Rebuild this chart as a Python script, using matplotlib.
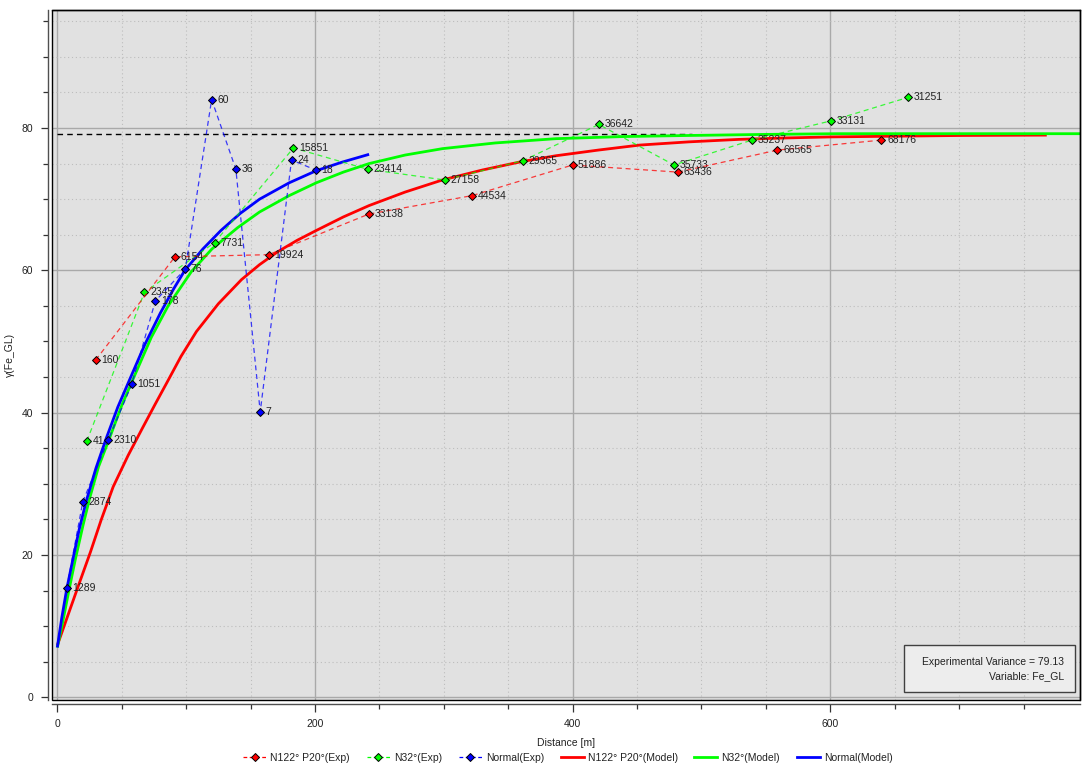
import matplotlib
matplotlib.use("Agg")
import matplotlib.pyplot as plt
from matplotlib.lines import Line2D
from matplotlib.patches import Rectangle
from matplotlib.ticker import MultipleLocator

plt.rcParams['font.family'] = ['Liberation Sans', 'DejaVu Sans']

# ---- experimental variogram points (lag [m], gamma, number of pairs) ----
n122_lag = [29.8, 91.3, 164.0, 241.7, 322.0, 399.9, 481.8, 559.0, 639.7]
n122_gamma = [47.4, 61.9, 62.2, 67.9, 70.5, 74.8, 73.8, 76.9, 78.3]
n122_pairs = ["160", "6154", "19924", "33138", "44534", "51886", "63436", "66565", "68176"]

n32_lag = [22.9, 67.6, 122.1, 183.3, 240.9, 300.6, 361.4, 420.3, 478.7, 539.1, 600.4, 660.3]
n32_gamma = [36.0, 56.9, 63.9, 77.2, 74.2, 72.7, 75.4, 80.5, 74.8, 78.3, 81.0, 84.3]
n32_pairs = ["41", "2345", "7731", "15851", "23414", "27158", "29365", "36642",
             "35733", "35237", "33131", "31251"]

normal_lag = [7.4, 19.8, 39.4, 57.8, 76.1, 99.4, 119.8, 138.6, 157.5, 181.8, 200.6]
normal_gamma = [15.4, 27.5, 36.1, 44.0, 55.7, 60.2, 84.0, 74.2, 40.1, 75.5, 74.1]
normal_pairs = ["1289", "2874", "2310", "1051", "178", "76", "60", "36", "7", "24", "18"]

# ---- fitted model curves ----
n122_model_h = [0, 8, 17, 25.7, 34, 43.4, 55, 66, 76, 85, 96, 108, 125, 143, 157, 171,
                186, 201, 222, 242, 270, 299, 330, 361, 387, 420, 452, 490, 529, 565,
                601, 650, 702, 768]
n122_model_g = [7.3, 11.4, 16.0, 20.4, 24.9, 29.6, 34.0, 37.8, 41.2, 44.2, 47.9, 51.4,
                55.3, 58.7, 60.8, 62.6, 64.2, 65.6, 67.5, 69.1, 71.0, 72.7, 74.1, 75.3,
                76.1, 76.9, 77.6, 78.05, 78.4, 78.6, 78.75, 78.85, 78.95, 79.0]

n32_model_h = [0, 4, 9, 14, 20, 25, 32, 40.7, 50, 59, 73, 86, 104, 120, 140, 157, 180,
               201, 222, 242, 270, 299, 340, 387, 440, 490, 550, 606, 700, 800]
n32_model_g = [7.0, 10.4, 15.0, 19.4, 24.2, 27.9, 32.4, 36.5, 41.0, 44.8, 50.6, 55.0,
               59.8, 63.0, 66.0, 68.2, 70.5, 72.3, 73.8, 75.0, 76.2, 77.1, 77.9, 78.5,
               78.8, 78.95, 79.1, 79.2, 79.2, 79.2]

normal_model_h = [0, 3.5, 7.3, 12, 17, 22.5, 30, 37.6, 47, 57, 68, 80, 90, 99, 113, 127,
                  142, 157, 180, 201, 221, 242]
normal_model_g = [7.0, 11.2, 15.2, 19.3, 23.6, 27.6, 32.2, 36.2, 40.8, 45.0, 49.6, 54.0,
                  57.3, 60.0, 63.0, 65.6, 68.0, 70.0, 72.3, 74.0, 75.2, 76.3]

exp_variance = 79.13
variance_line_end = 493
variable_name = "Fe_GL"

RED, GREEN, BLUE = "#ff0000", "#00ff00", "#0000ff"
FS = 7.5

W, H = 1082, 769
fig = plt.figure(figsize=(W / 100, H / 100), dpi=100)
fig.patch.set_facecolor("white")

# axes frame in pixels
L, R, T, B = 51.7, 1080.0, 10.3, 700.0
ax = fig.add_axes([L / W, (H - B) / H, (R - L) / W, (B - T) / H])
ax.set_facecolor("#e1e1e1")

ax.set_xlim(-4.35, 793.8)
ax.set_ylim(-0.38, 96.54)

ax.xaxis.set_major_locator(MultipleLocator(200))
ax.xaxis.set_minor_locator(MultipleLocator(50))
ax.yaxis.set_major_locator(MultipleLocator(20))
ax.yaxis.set_minor_locator(MultipleLocator(5))

ax.grid(which="major", color="#a9a9a9", linewidth=1.0, linestyle="-", zorder=0)
ax.grid(which="minor", color="#bdbdbd", linewidth=0.8, linestyle=(0, (1, 2.5)), zorder=0)
ax.set_axisbelow(True)

for side in ("left", "bottom"):
    ax.spines[side].set_position(("outward", 3))
    ax.spines[side].set_color("#505050")
    ax.spines[side].set_linewidth(1.0)
for side in ("top", "right"):
    ax.spines[side].set_color("#000000")
    ax.spines[side].set_linewidth(1.0)
# inner frame line
ax.add_patch(Rectangle((0, 0), 1, 1, transform=ax.transAxes, fill=False,
                       edgecolor="#000000", linewidth=1.0, zorder=6, clip_on=False))

ax.tick_params(which="major", direction="out", length=5.4, width=0.9, color="#333333",
               labelsize=FS, labelcolor="#222222", pad=5)
ax.tick_params(which="minor", direction="out", length=3.6, width=0.9, color="#333333")

ax.set_xlabel("Distance [m]", fontsize=FS, color="#222222")
ax.xaxis.set_label_coords(0.5, -0.055)
ax.set_ylabel("γ(Fe_GL)", fontsize=FS, color="#222222")
ax.yaxis.set_label_coords(-0.036, 0.5)

# sill reference line
ax.plot([0, variance_line_end], [exp_variance, exp_variance], color="black",
        linewidth=1.0, linestyle=(0, (4, 3)), zorder=2)

# model curves
ax.plot(n122_model_h, n122_model_g, color=RED, linewidth=2.0, zorder=2.2,
        solid_capstyle="butt")
ax.plot(n32_model_h, n32_model_g, color=GREEN, linewidth=2.0, zorder=2.3,
        solid_capstyle="butt")
ax.plot(normal_model_h, normal_model_g, color=BLUE, linewidth=2.0, zorder=2.4,
        solid_capstyle="butt")


def exp_series(lags, gammas, pairs, color, z):
    ax.plot(lags, gammas, color=color, linewidth=0.9, linestyle=(0, (4, 3)), alpha=0.75,
            zorder=z)
    ax.plot(lags, gammas, linestyle="none", marker="D", markersize=4.3,
            markerfacecolor=color, markeredgecolor="black", markeredgewidth=0.7,
            zorder=z + 0.1)
    for x, y, s in zip(lags, gammas, pairs):
        ax.annotate(s, (x, y), xytext=(4, 0), textcoords="offset points",
                    ha="left", va="center", fontsize=FS, color="#222222", zorder=z)


exp_series(n32_lag, n32_gamma, n32_pairs, GREEN, 3)
exp_series(n122_lag, n122_gamma, n122_pairs, RED, 4)
exp_series(normal_lag, normal_gamma, normal_pairs, BLUE, 5)

# info box
bx0, bx1, by0, by1 = 904, 1075, 645, 692
fig.patches.append(Rectangle((bx0 / W, 1 - by1 / H), (bx1 - bx0) / W, (by1 - by0) / H,
                             transform=fig.transFigure, facecolor="#ededed",
                             edgecolor="#404040", linewidth=1.0, zorder=10))
fig.text(1064 / W, 1 - 662 / H, f"Experimental Variance = {exp_variance:.2f}",
         ha="right", va="center", fontsize=FS, color="#222222", zorder=11)
fig.text(1064 / W, 1 - 676 / H, f"Variable: {variable_name}",
         ha="right", va="center", fontsize=FS, color="#222222", zorder=11)

# legend
def exp_handle(c):
    return Line2D([], [], color=c, linewidth=0.9, linestyle=(0, (3, 2)), marker="D",
                  markersize=4.3, markerfacecolor=c, markeredgecolor="black",
                  markeredgewidth=0.7)


handles = [exp_handle(RED), exp_handle(GREEN), exp_handle(BLUE),
           Line2D([], [], color=RED, linewidth=2.0),
           Line2D([], [], color=GREEN, linewidth=2.0),
           Line2D([], [], color=BLUE, linewidth=2.0)]
labels = ["N122° P20°(Exp)", "N32°(Exp)", "Normal(Exp)",
          "N122° P20°(Model)", "N32°(Model)", "Normal(Model)"]
fig.legend(handles, labels, loc="center", bbox_to_anchor=(568 / W, 1 - 758 / H),
           ncol=6, frameon=False, fontsize=FS, handlelength=2.2, handletextpad=0.4,
           columnspacing=1.6, labelcolor="#222222")

fig.savefig("out.png", dpi=100, facecolor="white")
